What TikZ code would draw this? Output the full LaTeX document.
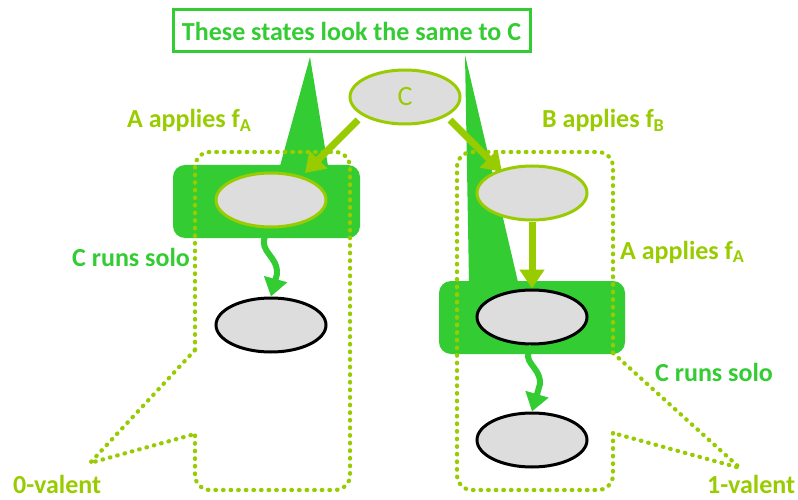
\documentclass[tikz,border=0pt]{standalone}
\usepackage{fontspec}
\setmainfont{Carlito}
\usetikzlibrary{shapes.geometric,arrows.meta,calc}
\definecolor{grn}{HTML}{33CC33}
\definecolor{ygr}{HTML}{99CC00}
\definecolor{stategray}{HTML}{DDDDDD}
\begin{document}
\begin{tikzpicture}[x=1pt,y=-1pt,
  state/.style={ellipse,draw,fill=stategray,line width=3pt,minimum width=110pt,minimum height=54pt,inner sep=0pt},
  ystate/.style={state,draw=ygr},
  bstate/.style={state,draw=black},
  greenbox/.style={fill=grn,rounded corners=12pt},
  callout/.style={fill=grn},
  dotline/.style={draw=ygr,line width=4.2pt,line cap=round,dash pattern=on 0.6pt off 7pt},
  bigarrow/.style={draw=ygr,line width=7pt,-{Triangle[length=19pt,width=24pt]}},
  squig/.style={draw=grn,line width=6pt,-{Triangle[length=18pt,width=23pt]}},
  ylabel/.style={text=ygr,font=\bfseries\fontsize{26}{30}\selectfont,anchor=base west,inner sep=0pt},
  glabel/.style={text=grn,font=\bfseries\fontsize{26}{30}\selectfont,anchor=base west,inner sep=0pt}
]
\useasboundingbox (0,0) rectangle (798,500);
\fill[white] (0,0) rectangle (798,500);
% callout triangles
\fill[callout] (310,57) -- (280,166) -- (328,166) -- cycle;
\fill[callout] (465,55) -- (469,282) -- (518,282) -- cycle;
% green highlight boxes
\fill[greenbox] (173,165) rectangle (360,238);
\fill[greenbox] (439,281) rectangle (625,354);
% title
\node[draw=grn,line width=3pt,fill=white,minimum width=357pt,minimum height=42pt,inner sep=0pt,
      text=grn,font=\bfseries\fontsize{26}{30}\selectfont] (title) at (351.5,31) {These states look the same to C};
% dotted valency regions
\draw[dotline,rounded corners=15pt] (195,350) -- (195,152) -- (350,152) -- (350,490) -- (195,490) -- (195,434);
\draw[dotline] (195,350) -- (90,463) -- (195,434);
\draw[dotline,rounded corners=15pt] (613,433) -- (613,490) -- (457,490) -- (457,152) -- (613,152) -- (613,353);
\draw[dotline] (613,353) -- (740,468) -- (613,433);
% states
\node[ystate,text=ygr,font=\fontsize{28}{30}\selectfont] (C) at (405,97) {C};
\node[ystate] (L1) at (271,200) {};
\node[bstate] (L2) at (271,325) {};
\node[ystate] (B) at (532,193) {};
\node[bstate] (M) at (532,317) {};
\node[bstate] (R) at (532,440) {};
% transitions
\draw[bigarrow] ($(C.center)+(-47,23)$) -- ($(L1.center)+(34,-27)$);
\draw[bigarrow] ($(C.center)+(45,23)$) -- ($(B.center)+(-30,-21)$);
\draw[bigarrow] (B.south) -- (M.north);
\draw[squig] ($(L1.south)+(-6,8)$) .. controls (259,252) and (278,256) .. (277,274) -- (L2.north);
\draw[squig] ($(M.south)+(0,1)$) .. controls (519,362) and (541,366) .. (540,384) -- (R.north);
% labels
\node[ylabel] (la1) at (127,128) {A applies f\textsubscript{A}};
\node[ylabel] (lb) at (542,128) {B applies f\textsubscript{B}};
\node[glabel] (ls1) at (72,266) {C runs solo};
\node[ylabel] (la2) at (620,259) {A applies f\textsubscript{A}};
\node[glabel] (ls2) at (655,381) {C runs solo};
\node[ylabel] (v0) at (13,493) {0-valent};
\node[ylabel] (v1) at (707,493) {1-valent};
\end{tikzpicture}
\end{document}
